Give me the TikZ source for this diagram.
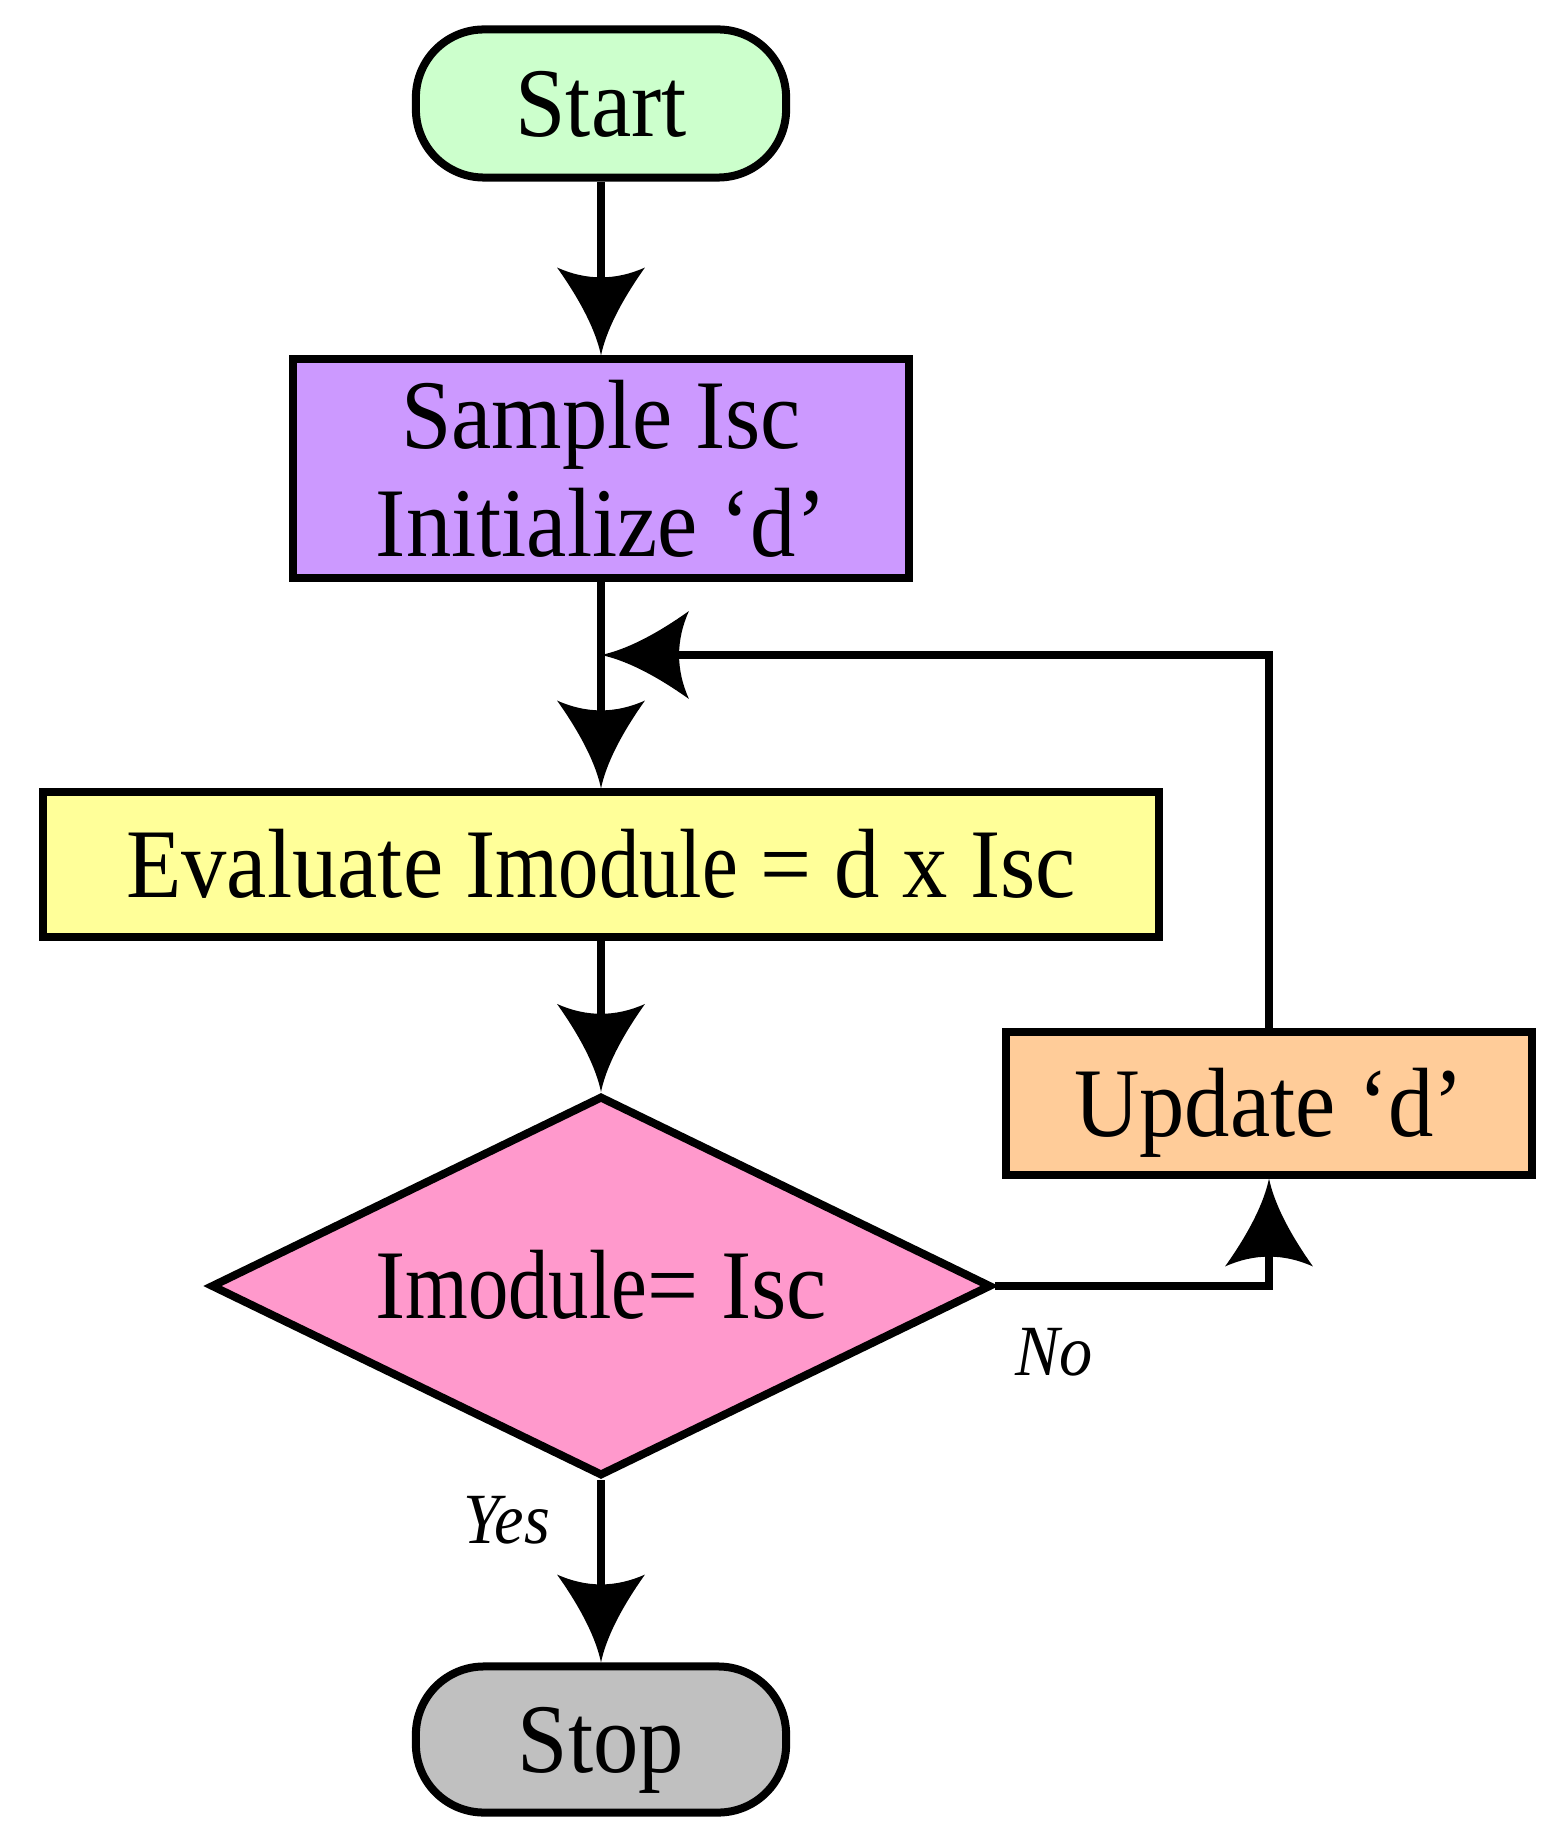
\documentclass[tikz,border=0pt]{standalone}
\usepackage{fontspec}
\usepackage{graphicx}
\setmainfont{Liberation Serif}[FakeStretch=0.92]
\usetikzlibrary{shapes.geometric}
\pgfdeclarearrow{
  name=Cusp,
  setup code={
    \pgfarrowssettipend{0pt}
    \pgfarrowssetlineend{-19pt}
    \pgfarrowssetbackend{-25pt}
    \pgfarrowshullpoint{0pt}{0pt}
    \pgfarrowshullpoint{-25pt}{12.5pt}
    \pgfarrowshullpoint{-25pt}{-12.5pt}
  },
  drawing code={
    \pgfpathmoveto{\pgfpointorigin}
    \pgfpathcurveto{\pgfpoint{-6.8pt}{1.4pt}}{\pgfpoint{-15.3pt}{5.6pt}}{\pgfpoint{-25pt}{12.5pt}}
    \pgfpathquadraticcurveto{\pgfpoint{-19.4pt}{0pt}}{\pgfpoint{-25pt}{-12.5pt}}
    \pgfpathcurveto{\pgfpoint{-15.3pt}{-5.6pt}}{\pgfpoint{-6.8pt}{-1.4pt}}{\pgfpointorigin}
    \pgfpathclose
    \pgfusepathqfill
  }
}
\definecolor{startc}{HTML}{CCFFCC}
\definecolor{samplec}{HTML}{CC99FF}
\definecolor{evalc}{HTML}{FFFF99}
\definecolor{decc}{HTML}{FF99CC}
\definecolor{updc}{HTML}{FFCC99}
\definecolor{stopc}{HTML}{C0C0C0}
\tikzset{
  base/.style={draw, line width=0.08cm, inner sep=0pt, font=\fontsize{28}{30.7}\selectfont},
  oneline/.style={base, text height=18.5pt, text depth=0pt},
  term/.style={oneline, rounded corners=0.68cm, minimum width=3.70cm, minimum height=1.48cm},
  procbox/.style={oneline, rectangle},
  decbox/.style={oneline, diamond, aspect=2.08, minimum width=7.80cm, minimum height=3.80cm},
  lab/.style={font=\fontsize{20.5}{23}\selectfont\itshape, inner sep=0pt},
  conn/.style={line width=0.075cm, -Cusp}
}
\begin{document}
\begin{tikzpicture}[x=0.01cm, y=-0.01cm]
\useasboundingbox (0,0) rectangle (1555,1840);
\node[term, fill=startc] (start) at (601,103.5) {Start};
\node[base, fill=samplec, align=center, minimum width=6.15cm, minimum height=2.18cm] (sample) at (601,468.5) {Sample Isc\\Initialize ‘d’};
\node[procbox, fill=evalc, minimum width=11.16cm, minimum height=1.44cm] (eval) at (601,864.5) {Evaluate I\scalebox{0.89}[1]{module} = d x Isc};
\node[decbox, fill=decc] (dec) at (601,1286) {I\scalebox{0.89}[1]{module}= Isc};
\node[procbox, fill=updc, minimum width=5.26cm, minimum height=1.42cm] (upd) at (1269,1103.5) {Update ‘d’};
\node[term, fill=stopc, minimum height=1.46cm] (stop) at (601,1739.5) {Stop};
\node[lab] (no) at (1054,1352) {No};
\node[lab] (yes) at (507,1520) {Yes};
\coordinate (j) at (601,655);
\draw[conn] (start) -- (sample);
\draw[conn] (sample) -- (eval);
\draw[conn] (eval) -- (dec);
\draw[conn] (dec) -- (stop);
\draw[conn] (dec.east) -| (upd.south);
\draw[conn] (upd.north) |- (j);
\end{tikzpicture}
\end{document}
